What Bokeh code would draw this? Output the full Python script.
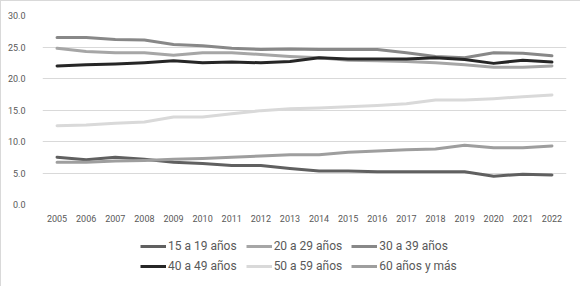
from bokeh.plotting import figure
from bokeh.layouts import column
from bokeh.models import Legend, LegendItem, FactorRange, Range1d, NumeralTickFormatter, FixedTicker
from bokeh.embed import file_html
from bokeh.resources import INLINE

years = [str(y) for y in range(2005, 2023)]

s15_19 = [7.5, 7.1, 7.5, 7.2, 6.7, 6.5, 6.2, 6.2, 5.7, 5.3, 5.3, 5.2, 5.2, 5.2, 5.2, 4.5, 4.8, 4.7]
s20_29 = [24.8, 24.3, 24.1, 24.1, 23.7, 24.1, 24.1, 23.8, 23.5, 23.3, 22.9, 22.8, 22.7, 22.5, 22.2, 21.8, 21.8, 22.0]
s30_39 = [26.5, 26.5, 26.2, 26.1, 25.4, 25.2, 24.8, 24.6, 24.7, 24.6, 24.6, 24.6, 24.1, 23.5, 23.3, 24.1, 24.0, 23.6]
s40_49 = [22.0, 22.2, 22.3, 22.5, 22.8, 22.5, 22.6, 22.5, 22.7, 23.3, 23.1, 23.1, 23.1, 23.3, 23.0, 22.4, 22.9, 22.6]
s50_59 = [12.5, 12.6, 12.9, 13.1, 13.9, 13.9, 14.4, 14.9, 15.2, 15.3, 15.5, 15.7, 16.0, 16.6, 16.6, 16.8, 17.1, 17.4]
s60_mas = [6.7, 6.7, 6.9, 7.0, 7.2, 7.3, 7.5, 7.7, 7.9, 7.9, 8.3, 8.5, 8.7, 8.8, 9.4, 9.0, 9.0, 9.3]

labels = ["15 a 19 años", "20 a 29 años", "30 a 39 años", "40 a 49 años", "50 a 59 años", "60 años y más"]
series = [s15_19, s20_29, s30_39, s40_49, s50_59, s60_mas]
colors = ["#606060", "#a6a6a6", "#888888", "#262626", "#d9d9d9", "#9e9e9e"]

FONT = "Roboto"
TXT = "#595959"

p = figure(width=580, height=230, x_range=FactorRange(*years), y_range=Range1d(0, 30),
           output_backend="svg", toolbar_location=None,
           min_border_left=41, min_border_right=15, min_border_top=14, min_border_bottom=27)
p.outline_line_color = None
p.xgrid.grid_line_color = None
p.ygrid.grid_line_color = "#d9d9d9"
p.ygrid.grid_line_width = 1

p.yaxis.ticker = FixedTicker(ticks=[0, 5, 10, 15, 20, 25, 30])
p.yaxis.formatter = NumeralTickFormatter(format="0.0")
for ax in (p.xaxis[0], p.yaxis[0]):
    ax.axis_line_color = None
    ax.major_tick_line_color = None
    ax.minor_tick_line_color = None
    ax.major_label_text_font = FONT
    ax.major_label_text_font_size = "9px"
    ax.major_label_text_color = TXT
p.yaxis.major_label_standoff = 11
p.xaxis.major_label_standoff = 4

for vals, col in zip(series, colors):
    p.line(years, vals, line_color=col, line_width=3, line_join="round", line_cap="round")

# legend strip (key renderers hold a single point each, so they draw nothing)
pl = figure(width=580, height=56, x_range=Range1d(0, 1), y_range=Range1d(0, 1),
            output_backend="svg", toolbar_location=None,
            min_border_left=0, min_border_right=0, min_border_top=0, min_border_bottom=0)
pl.axis.visible = False
pl.grid.visible = False
pl.outline_line_color = None
keys = [pl.line([0], [0], line_color=col, line_width=3) for col in colors]

for row, yoff in ((0, 34), (1, 14)):
    its = [LegendItem(label=labels[i], renderers=[keys[i]]) for i in range(row * 3, row * 3 + 3)]
    lg = Legend(items=its, orientation="horizontal", location=(98, yoff),
                label_text_font=FONT, label_text_font_size="12px", label_text_color=TXT,
                glyph_width=26, glyph_height=10, label_standoff=2, spacing=9,
                label_height=11, padding=0, margin=0, border_line_color=None,
                background_fill_alpha=0)
    pl.add_layout(lg, "center")

layout = column(p, pl, spacing=0,
                styles={"border": "1px solid #d9d9d9", "box-sizing": "border-box"})

open("out.html", "w").write(file_html(layout, INLINE))
